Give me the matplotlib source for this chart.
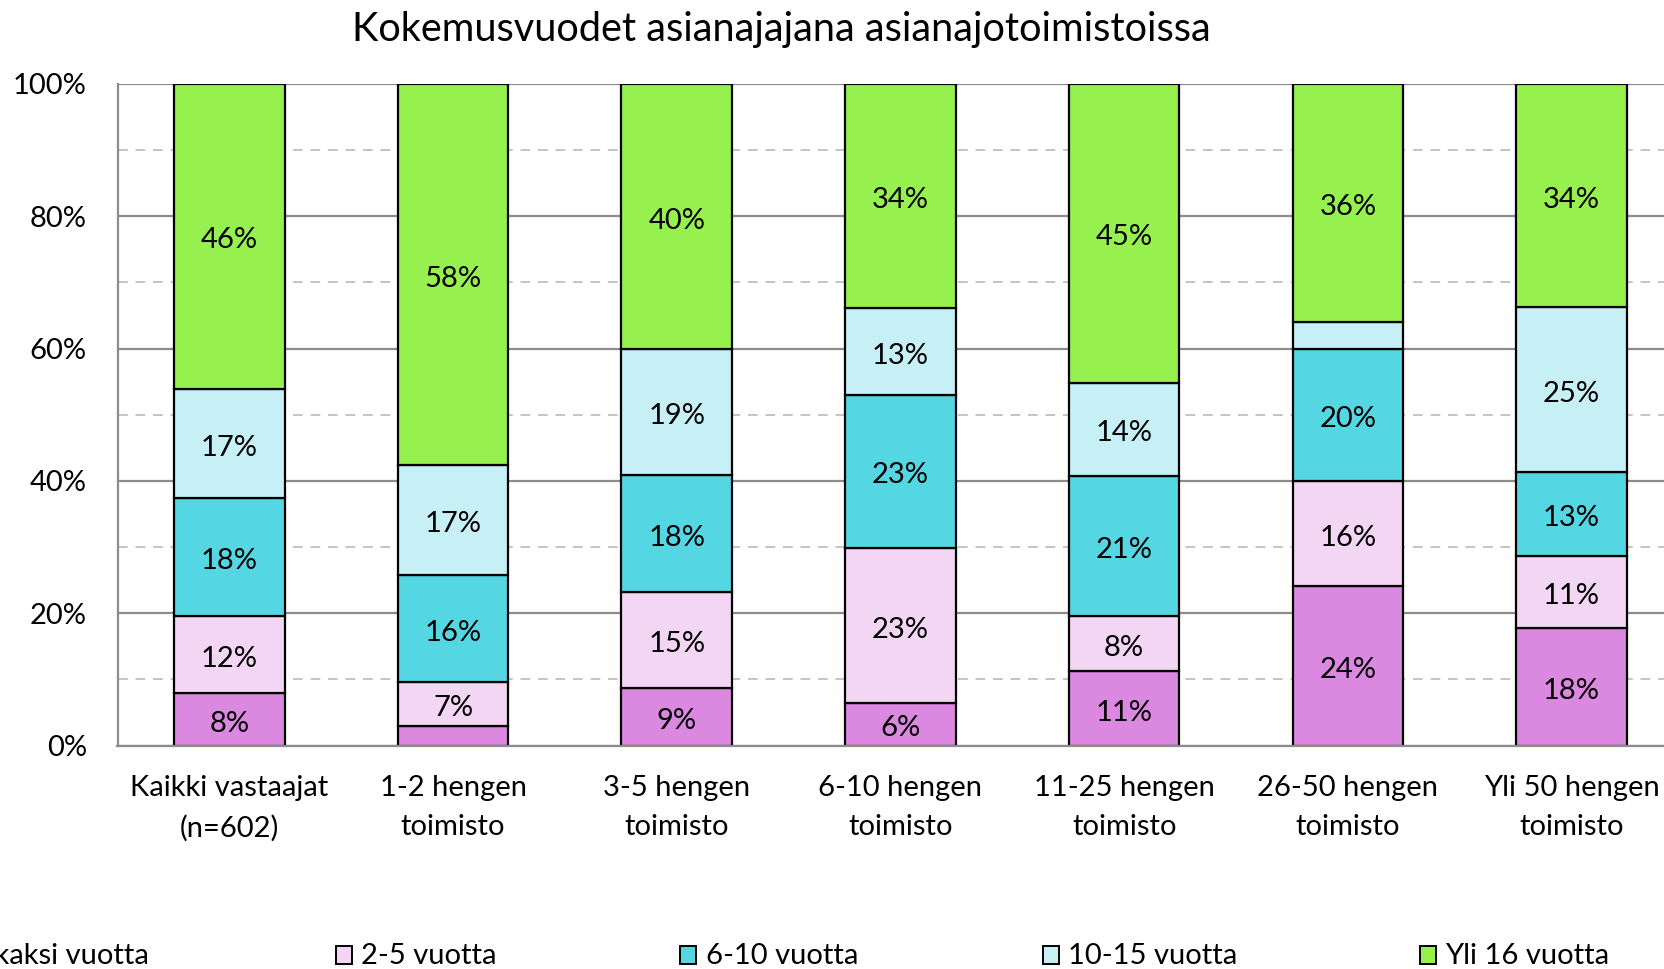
import matplotlib
matplotlib.use("Agg")
import matplotlib.pyplot as plt
from matplotlib.patches import Rectangle
import numpy as np

plt.rcParams['font.family'] = ['Lato', 'DejaVu Sans']

title = "Kokemusvuodet asianajajana asianajotoimistoissa"
categories = [
    "Kaikki vastaajat\n(n=602)",
    "1-2 hengen\ntoimisto",
    "3-5 hengen\ntoimisto",
    "6-10 hengen\ntoimisto",
    "11-25 hengen\ntoimisto",
    "26-50 hengen\ntoimisto",
    "Yli 50 hengen\ntoimisto",
]
series_names = ["Alle kaksi vuotta", "2-5 vuotta", "6-10 vuotta", "10-15 vuotta", "Yli 16 vuotta"]

alle_2 = [7.9, 2.9, 8.7, 6.4, 11.2, 24.1, 17.8]
v2_5 = [11.7, 6.7, 14.6, 23.4, 8.4, 15.9, 10.8]
v6_10 = [17.8, 16.1, 17.6, 23.2, 21.1, 20.0, 12.7]
v10_15 = [16.6, 16.7, 19.1, 13.0, 14.1, 4.0, 25.0]
yli_16 = [46.1, 57.6, 40.1, 33.9, 45.1, 36.0, 33.7]

colors = ["#DA88E0", "#F3D6F3", "#55D6E3", "#C6F0F5", "#96F04E"]
y_ticks = [0, 20, 40, 60, 80, 100]
y_tick_labels = ["0%", "20%", "40%", "60%", "80%", "100%"]

FS = 21

W, H = 1665, 969
fig = plt.figure(figsize=(W / 100, H / 100), dpi=100)

# axes spans past the right edge of the canvas
left_px, right_px = 117.5, 1683.4
top_px, bottom_px = 83.9, 745.5
ax = fig.add_axes([left_px / W, 1 - bottom_px / H,
                   (right_px - left_px) / W, (bottom_px - top_px) / H])

data = np.array([alle_2, v2_5, v6_10, v10_15, yli_16])
shares = data / data.sum(axis=0) * 100
x = np.arange(len(categories))

# grid: solid at 20% steps, dashed in between
for v in range(0, 101, 10):
    if v % 20 == 0:
        ax.axhline(v, color="#8c8c8c", lw=1.6, zorder=0)
    else:
        ax.axhline(v, color="#c4c4c4", lw=1.4, ls=(0, (5, 4)), zorder=0)

bottom = np.zeros(len(categories))
for name, vals, col in zip(series_names, shares, colors):
    ax.bar(x, vals, 0.494, bottom=bottom, color=col,
           edgecolor="black", linewidth=1.6, zorder=2, label=name)
    for xi, b, v in zip(x, bottom, vals):
        if v >= 5:
            ax.annotate(f"{v:.0f}%", (xi, b + v / 2), xytext=(0, -3),
                        textcoords="offset points", ha="center", va="center",
                        fontsize=FS, zorder=3)
    bottom += vals

ax.set_xlim(-0.5, len(categories) - 0.5)
ax.set_ylim(0, 100)
ax.set_yticks(y_ticks)
ax.set_yticklabels(y_tick_labels, fontsize=FS)
ax.set_xticks(x)
ax.set_xticklabels(categories, fontsize=FS, linespacing=1.62)
ax.tick_params(axis="y", length=0, pad=22)
ax.tick_params(axis="x", length=0, pad=21.5)
for s in ["top", "right"]:
    ax.spines[s].set_visible(False)
for s in ["left", "bottom"]:
    ax.spines[s].set_color("#8c8c8c")
    ax.spines[s].set_linewidth(1.6)
ax.set_facecolor("white")

fig.text(781 / W, 1 - 29 / H, title, ha="center", va="center", fontsize=28.6)

# legend row along the bottom
legend_patch_x = [-40, 335.6, 679.6, 1042.8, 1419.8]
legend_text_x = [148.7, 361, 706, 1068, 1445]
py0, py1 = 946, 964
for i, (name, col) in enumerate(zip(series_names, colors)):
    fig.patches.append(Rectangle((legend_patch_x[i] / W, 1 - py1 / H), 16 / W, (py1 - py0) / H,
                                 transform=fig.transFigure, facecolor=col,
                                 edgecolor="black", linewidth=1.4))
    ha = "right" if i == 0 else "left"
    fig.text(legend_text_x[i] / W, 1 - 956 / H, name, ha=ha, va="center", fontsize=FS)

fig.savefig("out.png", dpi=100, facecolor="white")
